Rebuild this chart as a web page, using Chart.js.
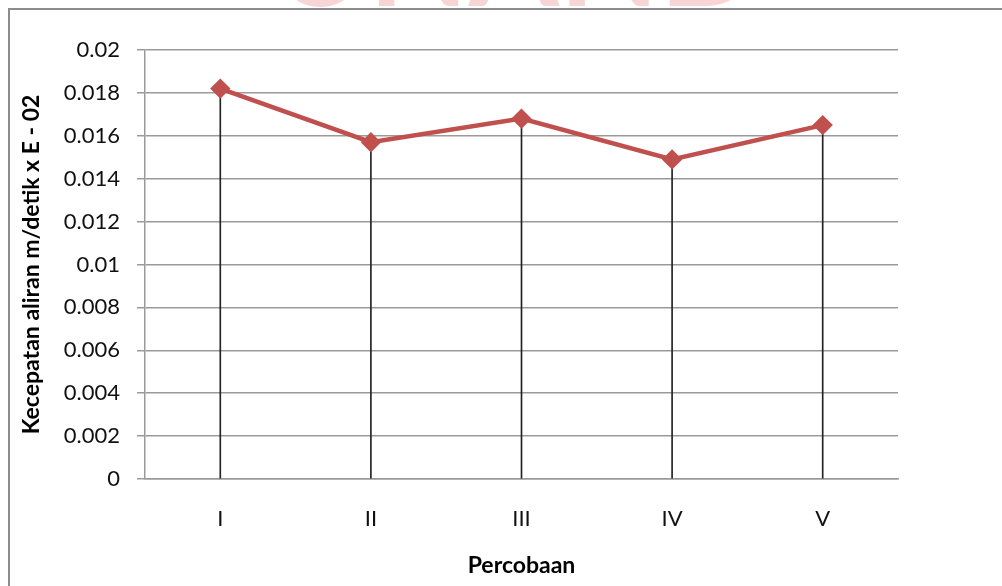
<!DOCTYPE html>
<html>
<head>
<meta charset="utf-8">
<script src="https://cdn.jsdelivr.net/npm/chart.js@4"></script>
<style>
  html, body { margin: 0; padding: 0; background: #fff; }
  #wrap { width: 1002px; height: 586px; position: relative; }
</style>
</head>
<body>
<div id="wrap"><canvas id="c" width="1002" height="586"></canvas></div>
<script>
// data
const categories = ['I', 'II', 'III', 'IV', 'V'];
const kecepatan  = [0.0182, 0.0157, 0.0168, 0.0149, 0.0165];
const yTicks     = [0, 0.002, 0.004, 0.006, 0.008, 0.01, 0.012, 0.014, 0.016, 0.018, 0.02];

const FONT = 'Lato, "Open Sans", sans-serif';

// frame around the chart + faded watermark at the top
const framePlugin = {
  id: 'frame',
  beforeDraw(chart) {
    const ctx = chart.ctx;
    ctx.save();
    ctx.fillStyle = '#fff';
    ctx.fillRect(0, 0, chart.width, chart.height);
    // watermark, only its lower edge shows above the frame
    ctx.beginPath();
    ctx.rect(0, 0, chart.width, 9);
    ctx.clip();
    ctx.fillStyle = 'rgba(236,150,150,0.4)';
    ctx.font = 'bold 130px ' + FONT;
    ctx.textAlign = 'center';
    ctx.textBaseline = 'alphabetic';
    ctx.fillText('UNAND', 515, 6);
    ctx.restore();

    ctx.save();
    ctx.strokeStyle = '#8c8c8c';
    ctx.lineWidth = 2;
    ctx.beginPath();
    ctx.moveTo(9, chart.height);
    ctx.lineTo(9, 9);
    ctx.lineTo(chart.width, 9);
    ctx.stroke();
    ctx.restore();
  }
};

new Chart(document.getElementById('c').getContext('2d'), {
  type: 'line',
  data: {
    labels: categories,
    datasets: [
      {
        type: 'line',
        data: kecepatan,
        borderColor: '#C0504D',
        backgroundColor: '#C0504D',
        borderWidth: 4.5,
        pointStyle: 'rectRot',
        pointRadius: 7,
        pointHoverRadius: 7,
        tension: 0,
        order: 0
      },
      {
        // drop lines from each point down to the axis
        type: 'bar',
        data: kecepatan,
        backgroundColor: '#222',
        barThickness: 1,
        order: 1
      }
    ]
  },
  options: {
    responsive: false,
    animation: false,
    layout: { padding: { left: 0, top: 50, right: 104, bottom: 0 } },
    plugins: {
      legend: { display: false },
      tooltip: { enabled: false }
    },
    scales: {
      x: {
        offset: true,
        grid: { display: false, drawTicks: false },
        border: { display: true, color: '#999', width: 1.5 },
        ticks: { color: '#111', font: { family: FONT, size: 22 }, padding: 27 },
        title: {
          display: true,
          text: 'Percobaan',
          color: '#000',
          font: { family: FONT, size: 23, weight: 'bold' },
          padding: { top: 0, bottom: 7 }
        },
        afterFit(s) { s.height = 107; }
      },
      y: {
        min: 0,
        max: 0.02,
        afterBuildTicks(s) { s.ticks = yTicks.map(v => ({ value: v })); },
        grid: { color: '#9a9a9a', lineWidth: 1.5, tickLength: 8 },
        border: { display: true, color: '#9a9a9a', width: 1.5 },
        ticks: {
          color: '#111',
          font: { family: FONT, size: 22 },
          padding: 17,
          callback: v => String(v)
        },
        title: {
          display: true,
          text: 'Kecepatan aliran m/detik x E - 02',
          color: '#000',
          font: { family: FONT, size: 23, weight: 'bold' },
          padding: { top: 18, bottom: 0 }
        },
        afterFit(s) { s.width = 145; }
      }
    }
  },
  plugins: [framePlugin]
});
</script>
</body>
</html>
